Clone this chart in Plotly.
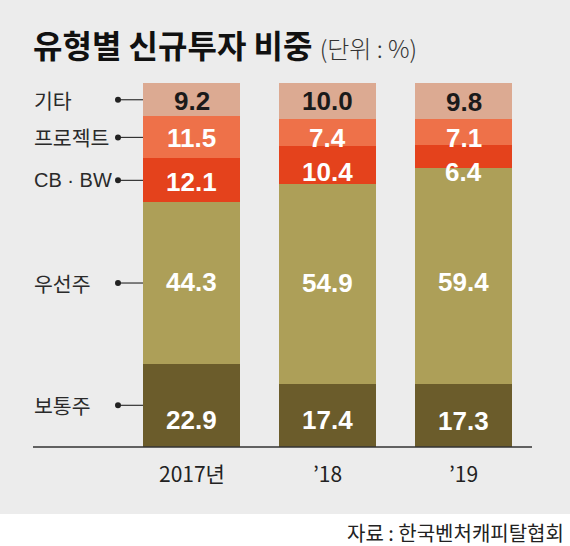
import plotly.graph_objects as go

# ---- data ----
years = ["2017년", "’18", "’19"]
series_names = ["보통주", "우선주", "CB · BW", "프로젝트", "기타"]  # bottom -> top
common = [22.9, 17.4, 17.3]      # 보통주
preferred = [44.3, 54.9, 59.4]   # 우선주
cb_bw = [12.1, 10.4, 6.4]        # CB·BW
project = [11.5, 7.4, 7.1]       # 프로젝트
other = [9.2, 10.0, 9.8]         # 기타

values = [common, preferred, cb_bw, project, other]

# ---- style ----
colors = ["#6b5c2b", "#ad9f58", "#e4421c", "#ee7149", "#dcaa92"]
text_colors = ["white", "white", "white", "white", "#1a1a1a"]
# pixel nudges for value labels (per series, per bar); positive = up
nudges = [[-15, -5, -5], [1, 1, -6], [-2, -7, -16], [-1, -5, -6], [-1, 0, -1]]

W, H = 570, 546
FONT = "Noto Sans CJK KR"
NUM_FONT = "Liberation Sans"

x = list(range(len(years)))
fig = go.Figure()
for name, vals, col in zip(series_names, values, colors):
    fig.add_trace(go.Bar(x=x, y=vals, name=name, width=0.72,
                         marker=dict(color=col, line=dict(width=0)),
                         hoverinfo="skip"))

annotations = []
shapes = []

# gray background area (upper part)
shapes.append(dict(type="rect", xref="paper", yref="paper", x0=0, x1=1,
                   y0=1 - 514 / H, y1=1, fillcolor="#ececec",
                   line=dict(width=0), layer="below"))
# baseline
shapes.append(dict(type="line", xref="paper", yref="y", x0=33 / W, x1=532 / W,
                   y0=0, y1=0, line=dict(color="#333333", width=1.5)))

# value labels
for si, vals in enumerate(values):
    for bi in range(len(years)):
        base = sum(values[k][bi] for k in range(si))
        mid = base + vals[bi] / 2
        annotations.append(dict(x=bi, y=mid, xref="x", yref="y",
                                text=f"{vals[bi]:.1f}", showarrow=False,
                                yshift=nudges[si][bi],
                                font=dict(family=NUM_FONT, size=26,
                                          color=text_colors[si], weight="bold")))

# left legend labels aligned with first bar's segments
for si, name in enumerate(series_names):
    base = sum(values[k][0] for k in range(si))
    mid = base + values[si][0] / 2
    is_latin = name.startswith("CB")
    annotations.append(dict(x=32 / W, y=mid, xref="paper", yref="y",
                            text=name, showarrow=False, xanchor="left",
                            yanchor="middle",
                            font=dict(family=NUM_FONT if is_latin else FONT,
                                      size=20 if is_latin else 20.5,
                                      color="#2a2a2a")))
    shapes.append(dict(type="line", xref="paper", yref="y", x0=118 / W,
                       x1=143 / W, y0=mid, y1=mid,
                       line=dict(color="#333333", width=1.2)))
    shapes.append(dict(type="circle", xref="paper", yref="y", ysizemode="pixel",
                       yanchor=mid, x0=115 / W, x1=121 / W, y0=-3, y1=3,
                       fillcolor="#222222", line=dict(width=0)))

# x category labels
for bi, yr in enumerate(years):
    annotations.append(dict(x=bi, y=0, xref="x", yref="y", text=yr,
                            showarrow=False, yanchor="middle", yshift=-26,
                            font=dict(family=FONT, size=21, color="#222222")))

# title
annotations.append(dict(
    x=31 / W, y=1 - 44 / H, xref="paper", yref="paper", xanchor="left",
    yanchor="middle", showarrow=False,
    text="<b>유형별 신규투자 비중</b> <span style='font-size:24px;color:#333333;font-weight:300'>(단위 : %)</span>",
    font=dict(family=FONT, size=32, color="#111111")))

# source
annotations.append(dict(
    x=566 / W, y=1 - 532 / H, xref="paper", yref="paper", xanchor="right",
    yanchor="middle", showarrow=False, text="자료 : 한국벤처캐피탈협회",
    font=dict(family=FONT, size=20, color="#222222")))

px_per_unit = (447 - 83) / 100.0
fig.update_layout(
    width=W, height=H, barmode="stack", showlegend=False,
    margin=dict(l=0, r=0, t=0, b=0),
    paper_bgcolor="white", plot_bgcolor="rgba(0,0,0,0)",
    xaxis=dict(range=[-191.5 / 136, (W - 191.5) / 136], visible=False,
               fixedrange=True),
    yaxis=dict(range=[-(H - 447) / px_per_unit, 447 / px_per_unit],
               visible=False, fixedrange=True),
    shapes=shapes, annotations=annotations,
)

fig.write_html("out.html", config={"displayModeBar": False},
               post_script="document.body.style.margin='0';document.body.style.overflow='hidden';")
